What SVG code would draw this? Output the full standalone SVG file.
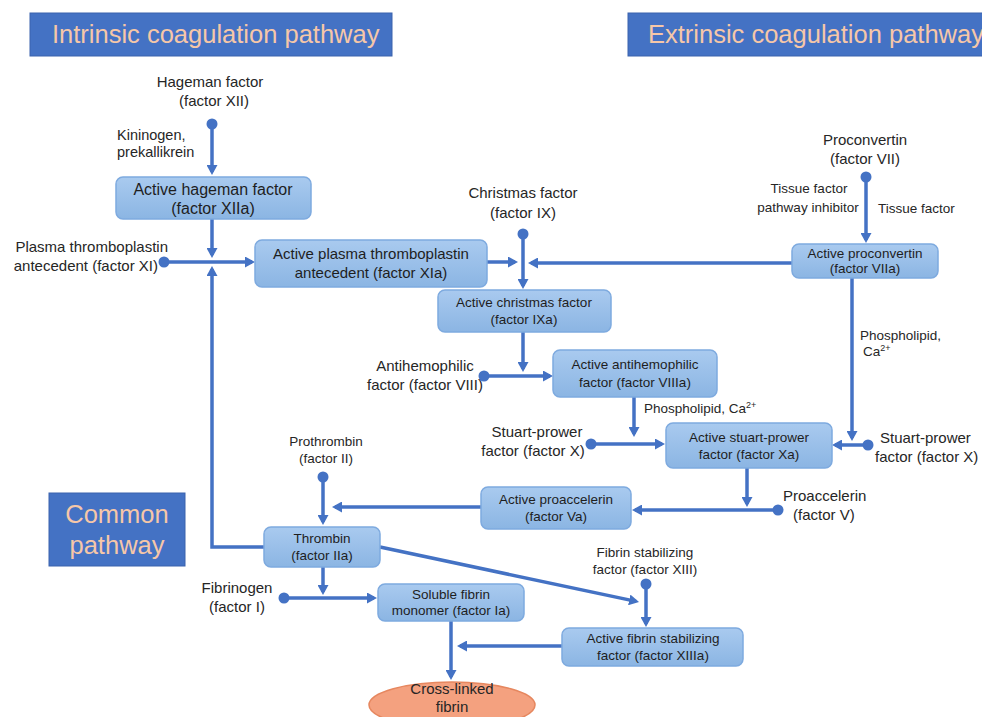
<svg xmlns="http://www.w3.org/2000/svg" width="982" height="717" viewBox="0 0 982 717">
<defs>
<linearGradient id="nodeGrad" x1="0" y1="0" x2="0" y2="1">
<stop offset="0" stop-color="#a9caef"/>
<stop offset="1" stop-color="#8bb5e3"/>
</linearGradient>
<marker id="arr" viewBox="0 0 10 11" refX="7" refY="5.5" markerWidth="10" markerHeight="11" markerUnits="userSpaceOnUse" orient="auto">
<path d="M0,0 L10,5.5 L0,11 z" fill="#4472c4"/>
</marker>
</defs>
<style>
.hdr{fill:#4472c4;stroke:#3b63ad;stroke-width:1}
.hdrt{font-family:"Liberation Sans",Arial,sans-serif;font-size:25.5px;fill:#f6c7a8}
.node{fill:url(#nodeGrad);stroke:#7eaadf;stroke-width:1.5}
.nt{font-family:"Liberation Sans",Arial,sans-serif;font-size:13.5px;fill:#1e1e1e;text-anchor:middle}
.nt16{font-size:16px}
.nt15{font-size:15px}
.lb{font-family:"Liberation Sans",Arial,sans-serif;font-size:15px;fill:#262626}
.sm{font-family:"Liberation Sans",Arial,sans-serif;font-size:13.5px;fill:#262626}
.c{text-anchor:middle}
.e{text-anchor:end}
.ln{fill:none;stroke:#4472c4;stroke-width:3.5}
.ar{marker-end:url(#arr)}
.dot{fill:#4472c4}
</style>
<rect width="982" height="717" fill="#ffffff"/>

<g id="hdr-intrinsic">
<rect class="hdr" x="30" y="13" width="362" height="43"/>
<text class="hdrt" x="52" y="43">Intrinsic coagulation pathway</text>
</g>
<g id="hdr-extrinsic">
<rect class="hdr" x="628" y="13" width="360" height="43"/>
<text class="hdrt" x="648" y="43">Extrinsic coagulation pathway</text>
</g>
<g id="hdr-common">
<rect class="hdr" x="49" y="493" width="136" height="73"/>
<text class="hdrt c" x="117" y="523">Common</text>
<text class="hdrt c" x="117" y="554">pathway</text>
</g>

<g id="connectors">
<circle class="dot" cx="212" cy="124" r="5.5"/>
<line class="ln ar" x1="212" y1="124" x2="212" y2="172"/>
<line class="ln ar" x1="212" y1="219" x2="212" y2="255"/>
<circle class="dot" cx="164" cy="262" r="5.5"/>
<line class="ln ar" x1="164" y1="262" x2="252" y2="262"/>
<polyline class="ln ar" points="264,547 212,547 212,269"/>
<line class="ln ar" x1="487" y1="262" x2="515" y2="262"/>
<circle class="dot" cx="523" cy="234" r="5.5"/>
<line class="ln ar" x1="523" y1="234" x2="523" y2="286"/>
<line class="ln ar" x1="792" y1="263" x2="531" y2="263"/>
<circle class="dot" cx="866" cy="177" r="5.5"/>
<line class="ln ar" x1="866" y1="177" x2="866" y2="240"/>
<line class="ln ar" x1="852" y1="278" x2="852" y2="438"/>
<circle class="dot" cx="868" cy="445" r="5.5"/>
<line class="ln ar" x1="868" y1="445" x2="835" y2="445"/>
<line class="ln ar" x1="523" y1="332" x2="523" y2="369"/>
<circle class="dot" cx="484" cy="376" r="5.5"/>
<line class="ln ar" x1="484" y1="376" x2="550" y2="376"/>
<line class="ln ar" x1="634" y1="397" x2="634" y2="434"/>
<circle class="dot" cx="591" cy="444" r="5.5"/>
<line class="ln ar" x1="591" y1="444" x2="662" y2="444"/>
<line class="ln ar" x1="747" y1="468" x2="747" y2="504"/>
<circle class="dot" cx="778" cy="510" r="5.5"/>
<line class="ln ar" x1="778" y1="510" x2="635" y2="510"/>
<line class="ln ar" x1="481" y1="507" x2="335" y2="507"/>
<circle class="dot" cx="323" cy="477" r="5.5"/>
<line class="ln ar" x1="323" y1="477" x2="323" y2="522"/>
<line class="ln ar" x1="323" y1="567" x2="323" y2="592"/>
<circle class="dot" cx="284" cy="598" r="5.5"/>
<line class="ln ar" x1="284" y1="598" x2="374" y2="598"/>
<line class="ln ar" x1="380" y1="547" x2="636.1" y2="601.4"/>
<circle class="dot" cx="646" cy="584" r="5.5"/>
<line class="ln ar" x1="646" y1="584" x2="646" y2="624"/>
<line class="ln ar" x1="562" y1="646" x2="460" y2="646"/>
<line class="ln ar" x1="451" y1="621" x2="451" y2="677"/>
</g>

<g id="n-xiia">
<rect class="node" x="116" y="177" width="195" height="42" rx="7"/>
<text class="nt nt16" x="213" y="195">Active hageman factor</text>
<text class="nt nt16" x="213" y="214">(factor XIIa)</text>
</g>
<g id="n-xia">
<rect class="node" x="255" y="240" width="232" height="47" rx="7"/>
<text class="nt nt15" x="371" y="259">Active plasma thromboplastin</text>
<text class="nt nt15" x="371" y="278">antecedent (factor XIa)</text>
</g>
<g id="n-ixa">
<rect class="node" x="438" y="290" width="173" height="42" rx="7"/>
<text class="nt" x="524" y="307">Active christmas factor</text>
<text class="nt" x="524" y="324">(factor IXa)</text>
</g>
<g id="n-viiia">
<rect class="node" x="553" y="350" width="164" height="47" rx="7"/>
<text class="nt" x="635" y="369">Active antihemophilic</text>
<text class="nt" x="635" y="387">factor (factor VIIIa)</text>
</g>
<g id="n-viia">
<rect class="node" x="792" y="244" width="146" height="34" rx="7"/>
<text class="nt" x="865" y="258">Active proconvertin</text>
<text class="nt" x="865" y="273">(factor VIIa)</text>
</g>
<g id="n-xa">
<rect class="node" x="666" y="423" width="166" height="45" rx="7"/>
<text class="nt" x="749" y="442">Active stuart-prower</text>
<text class="nt" x="749" y="459">factor (factor Xa)</text>
</g>
<g id="n-va">
<rect class="node" x="481" y="487" width="150" height="42" rx="7"/>
<text class="nt" x="556" y="504">Active proaccelerin</text>
<text class="nt" x="556" y="521">(factor Va)</text>
</g>
<g id="n-iia">
<rect class="node" x="264" y="527" width="116" height="40" rx="7"/>
<text class="nt" x="322" y="543">Thrombin</text>
<text class="nt" x="322" y="560">(factor IIa)</text>
</g>
<g id="n-ia">
<rect class="node" x="378" y="584" width="146" height="37" rx="7"/>
<text class="nt" x="451" y="599">Soluble fibrin</text>
<text class="nt" x="451" y="615">monomer (factor Ia)</text>
</g>
<g id="n-xiiia">
<rect class="node" x="562" y="628" width="181" height="38" rx="7"/>
<text class="nt" x="653" y="643">Active fibrin stabilizing</text>
<text class="nt" x="653" y="660">factor (factor XIIIa)</text>
</g>
<g id="n-fibrin">
<ellipse cx="452" cy="705" rx="83" ry="23" fill="#f4a17f" stroke="#e6875f" stroke-width="1.5"/>
<text class="lb c" x="452" y="694">Cross-linked</text>
<text class="lb c" x="452" y="712">fibrin</text>
</g>

<g id="l-xii">
<text class="lb c" x="210" y="87">Hageman factor</text>
<text class="lb c" x="214" y="106">(factor XII)</text>
</g>
<g id="l-kininogen">
<text class="sm" x="117" y="140" style="font-size:14.5px">Kininogen,</text>
<text class="sm" x="117" y="157" style="font-size:14.5px">prekallikrein</text>
</g>
<g id="l-xi">
<text class="lb e" x="168" y="252">Plasma thromboplastin</text>
<text class="lb e" x="158" y="271">antecedent (factor XI)</text>
</g>
<g id="l-ix">
<text class="lb c" x="523" y="198">Christmas factor</text>
<text class="lb c" x="523" y="218">(factor IX)</text>
</g>
<g id="l-vii">
<text class="lb c" x="865" y="145">Proconvertin</text>
<text class="lb c" x="865" y="164">(factor VII)</text>
</g>
<g id="l-tfpi">
<text class="sm c" x="809" y="193">Tissue factor</text>
<text class="sm c" x="808" y="212">pathway inhibitor</text>
</g>
<g id="l-tf">
<text class="sm" x="878" y="213">Tissue factor</text>
</g>
<g id="l-ph1">
<text class="sm" x="860" y="340">Phospholipid,</text>
<text class="sm" x="863" y="356">Ca<tspan font-size="9px" dy="-5">2+</tspan></text>
</g>
<g id="l-viii">
<text class="lb c" x="425" y="371">Antihemophilic</text>
<text class="lb c" x="425" y="390">factor (factor VIII)</text>
</g>
<g id="l-ph2">
<text class="sm" x="644" y="413">Phospholipid, Ca<tspan font-size="9px" dy="-5">2+</tspan></text>
</g>
<g id="l-x-left">
<text class="lb c" x="537" y="437">Stuart-prower</text>
<text class="lb c" x="533" y="456">factor (factor X)</text>
</g>
<g id="l-x-right">
<text class="lb" x="880" y="443">Stuart-prower</text>
<text class="lb" x="875" y="462">factor (factor X)</text>
</g>
<g id="l-v">
<text class="lb" x="783" y="501">Proaccelerin</text>
<text class="lb" x="793" y="520">(factor V)</text>
</g>
<g id="l-ii">
<text class="sm c" x="326" y="446">Prothrombin</text>
<text class="sm c" x="326" y="463">(factor II)</text>
</g>
<g id="l-i">
<text class="lb c" x="237" y="593">Fibrinogen</text>
<text class="lb c" x="237" y="612">(factor I)</text>
</g>
<g id="l-xiii">
<text class="sm c" x="645" y="557">Fibrin stabilizing</text>
<text class="sm c" x="645" y="574">factor (factor XIII)</text>
</g>
</svg>
